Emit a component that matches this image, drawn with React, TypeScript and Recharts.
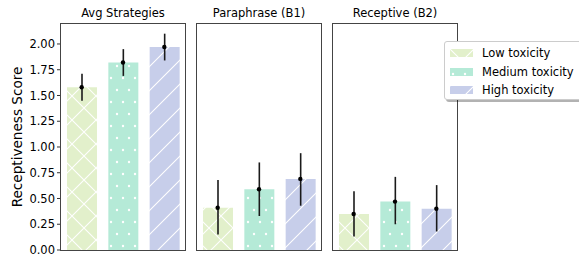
import { ComposedChart, Bar, Line, XAxis, YAxis, ErrorBar, Cell } from 'recharts';

const levels = ['Low toxicity', 'Medium toxicity', 'High toxicity'];
const panelTitles = ['Avg Strategies', 'Paraphrase (B1)', 'Receptive (B2)'];

// bar height (mean) and the ends of each error bar, one entry per toxicity level
const avgMeans = [1.58, 1.82, 1.97];
const avgLow = [1.45, 1.69, 1.84];
const avgHigh = [1.71, 1.95, 2.1];

const b1Means = [0.41, 0.59, 0.69];
const b1Low = [0.15, 0.33, 0.43];
const b1High = [0.68, 0.85, 0.94];

const b2Means = [0.35, 0.47, 0.4];
const b2Low = [0.13, 0.25, 0.18];
const b2High = [0.57, 0.71, 0.63];

const yTicks = [0, 0.25, 0.5, 0.75, 1.0, 1.25, 1.5, 1.75, 2.0];
const yMax = 2.194;

const colors = ['#E2F0CB', '#B5EAD7', '#C7CEEA'];
const patternIds = ['hatch-x', 'hatch-dot', 'hatch-slash'];

const font = "'DejaVu Sans', sans-serif";

const makeRows = (means: number[], lo: number[], hi: number[]) =>
  means.map((m, i) => ({
    name: levels[i],
    mean: m,
    err: [m - lo[i], hi[i] - m],
  }));

const panels = [
  { title: panelTitles[0], rows: makeRows(avgMeans, avgLow, avgHigh), left: 0, width: 186, axis: true },
  { title: panelTitles[1], rows: makeRows(b1Means, b1Low, b1High), left: 197, width: 124, axis: false },
  { title: panelTitles[2], rows: makeRows(b2Means, b2Low, b2High), left: 333, width: 124, axis: false },
];

// hatch patterns (x, dots, /), roughly the spacing seen in the picture
function Patterns() {
  return (
    <svg width={0} height={0} style={{ position: 'absolute' }}>
      <defs>
        <pattern id="hatch-x" patternUnits="userSpaceOnUse" width={24} height={24}>
          <rect width={24} height={24} fill={colors[0]} />
          <path d="M0,0 L24,24 M24,0 L0,24" stroke="#fff" strokeWidth={1.1} />
        </pattern>
        <pattern id="hatch-dot" patternUnits="userSpaceOnUse" width={24} height={24}>
          <rect width={24} height={24} fill={colors[1]} />
          <circle cx={3} cy={6} r={1.2} fill="#fff" />
          <circle cx={15} cy={6} r={1.2} fill="#fff" />
          <circle cx={9} cy={18} r={1.2} fill="#fff" />
          <circle cx={21} cy={18} r={1.2} fill="#fff" />
        </pattern>
        <pattern id="hatch-slash" patternUnits="userSpaceOnUse" width={24} height={24}>
          <rect width={24} height={24} fill={colors[2]} />
          <path d="M0,24 L24,0 M-4,4 L4,-4 M20,28 L28,20" stroke="#fff" strokeWidth={1.1} />
        </pattern>
      </defs>
    </svg>
  );
}

function Panel({ p }: { p: (typeof panels)[number] }) {
  const plotLeft = p.axis ? 61 : 0;
  return (
    <div style={{ position: 'absolute', left: p.left, top: 0 }}>
      <ComposedChart
        width={p.width}
        height={259}
        data={p.rows}
        margin={{ top: 24, right: p.axis ? 1 : 0, bottom: 9, left: 0 }}
      >
        <XAxis dataKey="name" type="category" hide />
        <YAxis
          domain={[0, yMax]}
          ticks={yTicks}
          hide={!p.axis}
          width={61}
          axisLine={false}
          tickSize={4}
          tickLine={{ stroke: '#333' }}
          tick={{ fill: '#000', fontSize: 11.5, fontFamily: font }}
          tickFormatter={(v: number) => v.toFixed(2)}
          allowDataOverflow
        />
        <Bar dataKey="mean" barSize={30} isAnimationActive={false}>
          {p.rows.map((r, i) => (
            <Cell key={r.name} fill={`url(#${patternIds[i]})`} />
          ))}
          <ErrorBar dataKey="err" width={0} stroke="#1a1a1a" strokeWidth={1.6} direction="y" />
        </Bar>
        <Line
          dataKey="mean"
          stroke="none"
          dot={{ r: 2.2, fill: '#000', stroke: '#000', strokeWidth: 0 }}
          activeDot={false}
          isAnimationActive={false}
        />
      </ComposedChart>
      <div
        style={{
          position: 'absolute',
          left: plotLeft - 1,
          top: 23,
          width: p.width - plotLeft - (p.axis ? 1 : 0) + 2,
          height: 228,
          boxSizing: 'border-box',
          border: '1px solid #444',
          pointerEvents: 'none',
        }}
      />
      <div
        style={{
          position: 'absolute',
          left: plotLeft,
          width: p.width - plotLeft - (p.axis ? 1 : 0),
          top: 6,
          textAlign: 'center',
          fontSize: 11.5,
          fontFamily: font,
          whiteSpace: 'nowrap',
        }}
      >
        {p.title}
      </div>
    </div>
  );
}

function LegendBox() {
  return (
    <div
      style={{
        position: 'absolute',
        left: 444,
        top: 41,
        width: 142,
        height: 59,
        boxSizing: 'border-box',
        border: '1px solid #ccc',
        borderRadius: 3,
        background: '#fff',
        boxShadow: '2px 2px 0 rgba(0,0,0,0.3)',
        fontFamily: font,
        fontSize: 11.5,
      }}
    >
      {levels.map((lv, i) => (
        <div key={lv} style={{ position: 'absolute', left: 0, top: 3 + i * 18.5, height: 16, width: 142 }}>
          <svg width={23} height={8} style={{ position: 'absolute', left: 5, top: 4 }}>
            <rect width={23} height={8} fill={`url(#${patternIds[i]})`} />
          </svg>
          <span style={{ position: 'absolute', left: 37, top: 0, lineHeight: '16px', whiteSpace: 'nowrap' }}>{lv}</span>
        </div>
      ))}
    </div>
  );
}

export default function App() {
  return (
    <div
      style={{
        position: 'absolute',
        left: 0,
        top: 0,
        width: 579,
        height: 259,
        overflow: 'hidden',
        background: '#fff',
        fontFamily: font,
      }}
    >
      <Patterns />
      {panels.map((p) => (
        <Panel key={p.title} p={p} />
      ))}
      <div
        style={{
          position: 'absolute',
          left: 17,
          top: 137,
          transform: 'translate(-50%, -50%) rotate(-90deg)',
          fontSize: 13.6,
          whiteSpace: 'nowrap',
        }}
      >
        Receptiveness Score
      </div>
      <LegendBox />
    </div>
  );
}
